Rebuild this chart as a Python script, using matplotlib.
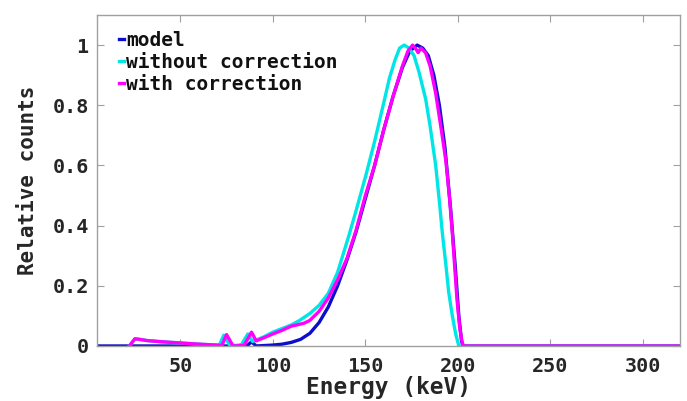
import matplotlib
matplotlib.use("Agg")
import matplotlib.pyplot as plt

# ---- data ----
energy_model = [5, 86, 88.5, 91, 100, 105, 110, 115, 120, 125, 130, 135, 140, 145, 150,
                155, 160, 165, 170, 174, 178, 181, 184, 187, 190, 193, 196, 198.5,
                200.5, 202, 203, 320]
model = [0, 0, 0.014, 0, 0.003, 0.006, 0.012, 0.022, 0.042, 0.078, 0.13, 0.2, 0.285,
         0.38, 0.49, 0.6, 0.72, 0.83, 0.925, 0.98, 1.0, 0.99, 0.965, 0.9, 0.8, 0.66,
         0.46, 0.27, 0.1, 0.015, 0, 0]

energy_without = [22.5, 25.5, 28, 32, 40, 50, 60, 70, 71, 73.5, 77, 83, 86.5, 89, 95, 100,
                  105, 110, 114.5, 120, 125, 130, 135, 141, 145, 150.4, 155, 157.5, 160,
                  163, 166, 168.5, 171, 173.5, 176.3, 179, 182.6, 185, 188, 190, 191.6,
                  193.5, 195, 197, 198.8, 200.5, 320]
without_corr = [0, 0.024, 0.022, 0.018, 0.014, 0.01, 0.006, 0.003, 0.002, 0.036, 0, 0.004,
                0.04, 0.015, 0.03, 0.046, 0.058, 0.07, 0.085, 0.108, 0.135, 0.175, 0.245,
                0.365, 0.45, 0.57, 0.68, 0.745, 0.81, 0.89, 0.95, 0.99, 1.0, 0.99, 0.965,
                0.91, 0.82, 0.73, 0.6, 0.48, 0.375, 0.27, 0.18, 0.1, 0.04, 0.0, 0]

energy_with = [22.5, 25.5, 28, 32, 40, 50, 60, 70, 72.5, 75, 78.5, 84.5, 88.5, 91, 95, 100,
               105, 110, 113, 117, 120, 125, 130, 135, 140, 145, 150, 155, 160, 165, 170,
               173, 175.5, 177, 178.5, 180, 182.5, 185, 188, 191, 193.5, 195.5, 197,
               199.5, 201, 202.5, 203.5, 320]
with_corr = [0, 0.024, 0.022, 0.018, 0.014, 0.01, 0.006, 0.003, 0.002, 0.038, 0, 0.002,
             0.046, 0.017, 0.027, 0.04, 0.052, 0.066, 0.07, 0.076, 0.085, 0.115, 0.16, 0.22,
             0.29, 0.385, 0.5, 0.6, 0.72, 0.83, 0.93, 0.98, 1.0, 0.99, 0.975, 0.99, 0.975,
             0.93, 0.84, 0.72, 0.615, 0.49, 0.374, 0.155, 0.06, 0.005, 0, 0]

labels = ["model", "without correction", "with correction"]
colors = ["#0d0dcc", "#00e6e6", "#ff00ff"]
xticks = [50, 100, 150, 200, 250, 300]
yticks = [0, 0.2, 0.4, 0.6, 0.8, 1]
yticklabels = ["0", "0.2", "0.4", "0.6", "0.8", "1"]

plt.rcParams['font.family'] = ['DejaVu Sans Mono', 'DejaVu Sans']
plt.rcParams['font.weight'] = 'bold'

fig = plt.figure(figsize=(6.87, 4.01), dpi=100)
ax = fig.add_axes([0.1412, 0.1372, 0.8486, 0.8254])

ax.plot(energy_model, model, color=colors[0], lw=2.4, label=labels[0])
ax.plot(energy_without, without_corr, color=colors[1], lw=2.4, label=labels[1])
ax.plot(energy_with, with_corr, color=colors[2], lw=2.4, label=labels[2])

ax.set_xlim(5, 320)
ax.set_ylim(0, 1.1)
ax.set_xticks(xticks)
ax.set_xticklabels([str(t) for t in xticks])
ax.set_yticks(yticks)
ax.set_yticklabels(yticklabels)

for s in ax.spines.values():
    s.set_color("#a0a0a0")
    s.set_linewidth(1.0)
ax.tick_params(direction="in", length=5, width=0.8, color="#a0a0a0",
               top=True, right=True, labelsize=14.5, labelcolor="#262626")
ax.tick_params(axis="x", pad=8)
ax.tick_params(axis="y", pad=6)
for lab in ax.get_xticklabels() + ax.get_yticklabels():
    lab.set_fontweight("bold")

ax.set_xlabel("Energy (keV)", fontsize=16.5, fontweight="bold", color="#262626", labelpad=0)
ax.set_ylabel("Relative counts", fontsize=15, fontweight="bold", color="#262626", labelpad=10)

leg = ax.legend(loc="upper left", bbox_to_anchor=(0.024, 0.975), frameon=False,
                handlelength=0.25, handletextpad=0.12, labelspacing=0.16,
                prop={"family": "DejaVu Sans Mono", "weight": "bold", "size": 14},
                borderaxespad=0.0)
for t in leg.get_texts():
    t.set_color("#111111")

fig.savefig("out.png", dpi=100)
